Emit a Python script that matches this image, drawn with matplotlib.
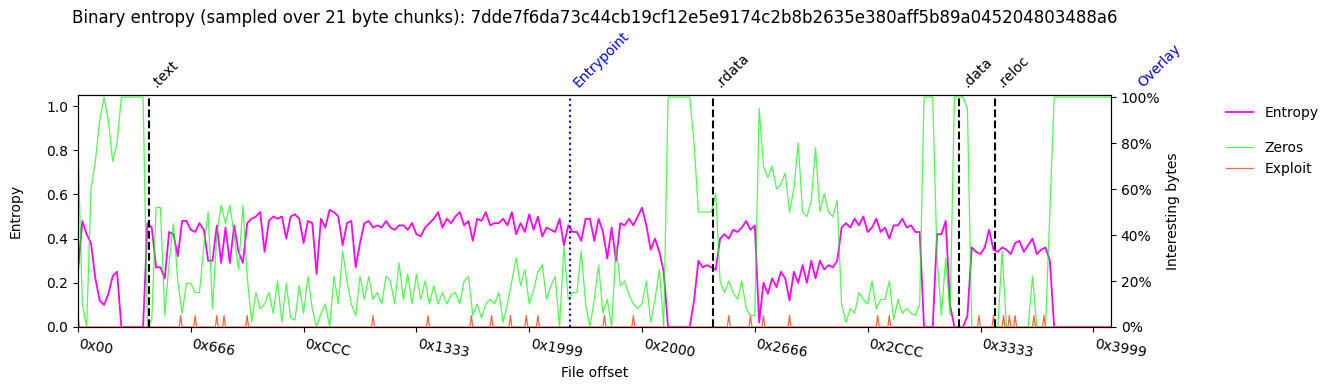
import matplotlib
matplotlib.use('Agg')
import matplotlib.pyplot as plt
import matplotlib.transforms as mtransforms
from matplotlib.ticker import PercentFormatter
import numpy as np

title = ("Binary entropy (sampled over 21 byte chunks): "
         "7dde7f6da73c44cb19cf12e5e9174c2b8b2635e380aff5b89a045204803488a6")

chunk_size = 21
sample_step = 63  # offsets between the values
file_end = 15000

entropy = [
    0.25, 0.48, 0.42, 0.38, 0.22, 0.12, 0.10, 0.15, 0.23, 0.25,
    0.0, 0.0, 0.0, 0.0, 0.0, 0.0, 0.47, 0.45, 0.27, 0.27,
    0.22, 0.43, 0.42, 0.32, 0.48, 0.48, 0.44, 0.43, 0.47, 0.44,
    0.30, 0.30, 0.46, 0.29, 0.45, 0.29, 0.46, 0.34, 0.29, 0.47,
    0.49, 0.50, 0.52, 0.34, 0.48, 0.50, 0.49, 0.50, 0.40, 0.50,
    0.51, 0.49, 0.38, 0.48, 0.47, 0.24, 0.49, 0.45, 0.53, 0.52,
    0.50, 0.37, 0.47, 0.48, 0.27, 0.38, 0.47, 0.48, 0.45, 0.46,
    0.45, 0.48, 0.45, 0.44, 0.46, 0.46, 0.44, 0.47, 0.42, 0.41,
    0.45, 0.47, 0.49, 0.52, 0.45, 0.49, 0.47, 0.50, 0.52, 0.46,
    0.48, 0.39, 0.49, 0.48, 0.52, 0.46, 0.47, 0.47, 0.49, 0.46,
    0.52, 0.42, 0.47, 0.43, 0.51, 0.44, 0.50, 0.41, 0.45, 0.44,
    0.43, 0.49, 0.37, 0.46, 0.43, 0.43, 0.39, 0.49, 0.49, 0.39,
    0.49, 0.43, 0.31, 0.45, 0.30, 0.47, 0.46, 0.49, 0.46, 0.50,
    0.54, 0.46, 0.35, 0.40, 0.34, 0.25, 0.0, 0.0, 0.0, 0.0,
    0.0, 0.0, 0.12, 0.30, 0.27, 0.28, 0.27, 0.26, 0.40, 0.42,
    0.40, 0.44, 0.43, 0.45, 0.48, 0.44, 0.46, 0.02, 0.20, 0.15,
    0.22, 0.18, 0.25, 0.22, 0.12, 0.25, 0.20, 0.28, 0.20, 0.30,
    0.22, 0.30, 0.26, 0.28, 0.27, 0.30, 0.45, 0.47, 0.45, 0.49,
    0.46, 0.50, 0.43, 0.45, 0.49, 0.43, 0.45, 0.40, 0.46, 0.46,
    0.49, 0.45, 0.46, 0.43, 0.43, 0.0, 0.0, 0.0, 0.42, 0.42,
    0.48, 0.10, 0.0, 0.0, 0.0, 0.05, 0.36, 0.34, 0.33, 0.36,
    0.44, 0.35, 0.34, 0.36, 0.35, 0.33, 0.38, 0.39, 0.34, 0.37,
    0.40, 0.33, 0.35, 0.36, 0.30, 0.0, 0.0, 0.0, 0.0, 0.0,
    0.0, 0.0, 0.0, 0.0, 0.0, 0.0, 0.0, 0.0, 0.0,
]

zeros = [
    0.80, 0.10, 0.0, 0.60, 0.72, 0.90, 1.0, 0.90, 0.72, 0.80,
    1.0, 1.0, 1.0, 1.0, 1.0, 1.0, 0.0, 0.03, 0.52, 0.52,
    0.05, 0.28, 0.45, 0.20, 0.06, 0.19, 0.19, 0.15, 0.15, 0.35,
    0.50, 0.08, 0.40, 0.53, 0.45, 0.53, 0.40, 0.25, 0.53, 0.22,
    0.02, 0.15, 0.08, 0.10, 0.15, 0.06, 0.20, 0.02, 0.19, 0.04,
    0.03, 0.18, 0.06, 0.22, 0.08, 0.0, 0.06, 0.10, 0.0, 0.22,
    0.10, 0.33, 0.20, 0.10, 0.05, 0.22, 0.12, 0.22, 0.12, 0.15,
    0.10, 0.22, 0.20, 0.10, 0.28, 0.12, 0.23, 0.10, 0.23, 0.12,
    0.20, 0.10, 0.18, 0.10, 0.15, 0.10, 0.14, 0.15, 0.10, 0.20,
    0.22, 0.05, 0.10, 0.04, 0.10, 0.12, 0.10, 0.15, 0.02, 0.10,
    0.20, 0.30, 0.18, 0.25, 0.10, 0.16, 0.24, 0.27, 0.12, 0.18,
    0.22, 0.0, 0.35, 0.12, 0.15, 0.15, 0.33, 0.10, 0.0, 0.12,
    0.27, 0.06, 0.12, 0.0, 0.35, 0.18, 0.20, 0.14, 0.10, 0.08,
    0.10, 0.20, 0.02, 0.12, 0.25, 0.0, 1.0, 1.0, 1.0, 1.0,
    1.0, 1.0, 0.80, 0.50, 0.50, 0.50, 0.50, 0.58, 0.20, 0.15,
    0.20, 0.15, 0.12, 0.20, 0.08, 0.05, 0.05, 0.95, 0.70, 0.65,
    0.70, 0.60, 0.62, 0.67, 0.50, 0.60, 0.80, 0.50, 0.48, 0.55,
    0.78, 0.50, 0.58, 0.50, 0.48, 0.55, 0.10, 0.02, 0.08, 0.06,
    0.15, 0.12, 0.10, 0.20, 0.08, 0.12, 0.12, 0.20, 0.03, 0.12,
    0.06, 0.08, 0.06, 0.05, 0.10, 1.0, 1.0, 1.0, 0.30, 0.05,
    0.30, 0.05, 1.0, 1.0, 1.0, 0.95, 0.0, 0.0, 0.0, 0.0,
    0.0, 0.0, 0.0, 0.33, 0.0, 0.0, 0.0, 0.0, 0.0, 0.0,
    0.22, 0.0, 0.0, 0.0, 0.50, 1.0, 1.0, 1.0, 1.0, 1.0,
    1.0, 1.0, 1.0, 1.0, 1.0, 1.0, 1.0, 1.0, 1.0,
]

n_chunks = 715
exploit_chunks = [0, 71, 81, 96, 101, 117, 204, 242, 272, 286, 299, 310, 318,
                  364, 384, 450, 465, 474, 492, 553, 561, 623, 633, 640, 644,
                  648, 661, 668]
exploit_values = [0.05, 0.05, 0.05, 0.05, 0.05, 0.05, 0.05, 0.05, 0.05, 0.05,
                  0.05, 0.05, 0.05, 0.05, 0.05, 0.05, 0.05, 0.05, 0.05, 0.05,
                  0.05, 0.05, 0.05, 0.05, 0.05, 0.05, 0.05, 0.05]

section_names = ['.text', '.rdata', '.data', '.reloc']
section_offsets = [0x400, 0x2400, 0x3200, 0x3400]
entry_name = 'Entrypoint'
entry_offset = 7150
overlay_name = 'Overlay'
overlay_offset = 0x3C00

xtick_offsets = [0x0, 0x666, 0xCCC, 0x1333, 0x1999, 0x2000, 0x2666, 0x2CCC, 0x3333, 0x3999]
xtick_labels = ['0x00', '0x666', '0xCCC', '0x1333', '0x1999', '0x2000',
                '0x2666', '0x2CCC', '0x3333', '0x3999']

# ---------------------------------------------------------------
x = np.arange(len(entropy)) * sample_step
xc = np.arange(n_chunks) * chunk_size
exploit = np.zeros(n_chunks)
exploit[exploit_chunks] = exploit_values

fig = plt.figure(figsize=(13.35, 3.9), dpi=100)
ax = fig.add_axes([78 / 1335, 63 / 390, 1033 / 1335, 232 / 390])

l1, = ax.plot(x, entropy, color='magenta', lw=1.3, label='Entropy')
ax.set_xlim(0, file_end)
ax.set_ylim(0, 1.05)
ax.set_ylabel('Entropy', labelpad=17)
ax.set_xlabel('File offset')
ax.set_xticks(xtick_offsets)
ax.set_xticklabels(xtick_labels, rotation=-10, ha='left')

ax2 = ax.twinx()
l2, = ax2.plot(x, zeros, color='lime', alpha=0.7, lw=0.9, label='Zeros')
l3, = ax2.plot(xc, exploit, color='tomato', lw=0.9, label='Exploit')
ax2.set_ylim(0, 1.009)
ax2.set_yticks([0, 0.2, 0.4, 0.6, 0.8, 1.0])
ax2.yaxis.set_major_formatter(PercentFormatter(1.0, decimals=0))
ax2.set_ylabel('Interesting bytes')
ax2.set_xlim(0, file_end)

trans = mtransforms.blended_transform_factory(ax2.transData, ax2.transAxes)
for name, off in zip(section_names, section_offsets):
    ax2.axvline(off, color='black', ls='--', lw=1.5)
    ax2.text(off, 1.02, name, transform=trans, rotation=45, ha='left', va='bottom',
             fontsize=10, color='black', clip_on=False)
ax2.axvline(entry_offset, color='blue', ls=':', lw=1.5)
ax2.text(entry_offset, 1.02, entry_name, transform=trans, rotation=45, ha='left',
         va='bottom', fontsize=10, color='blue', clip_on=False)
ax2.axvline(overlay_offset, color='blue', ls=':', lw=1.5)
ax2.text(overlay_offset, 1.02, overlay_name, transform=trans, rotation=45, ha='left',
         va='bottom', fontsize=10, color='blue', clip_on=False)

ax.set_title(title, fontsize=12, pad=52)

fig.legend(handles=[l1], loc='center left', bbox_to_anchor=(1213 / 1335, (390 - 113) / 390),
           frameon=False)
fig.legend(handles=[l2, l3], loc='center left',
           bbox_to_anchor=(1213 / 1335, (390 - 158.5) / 390), frameon=False)

fig.savefig('out.png', dpi=100)
